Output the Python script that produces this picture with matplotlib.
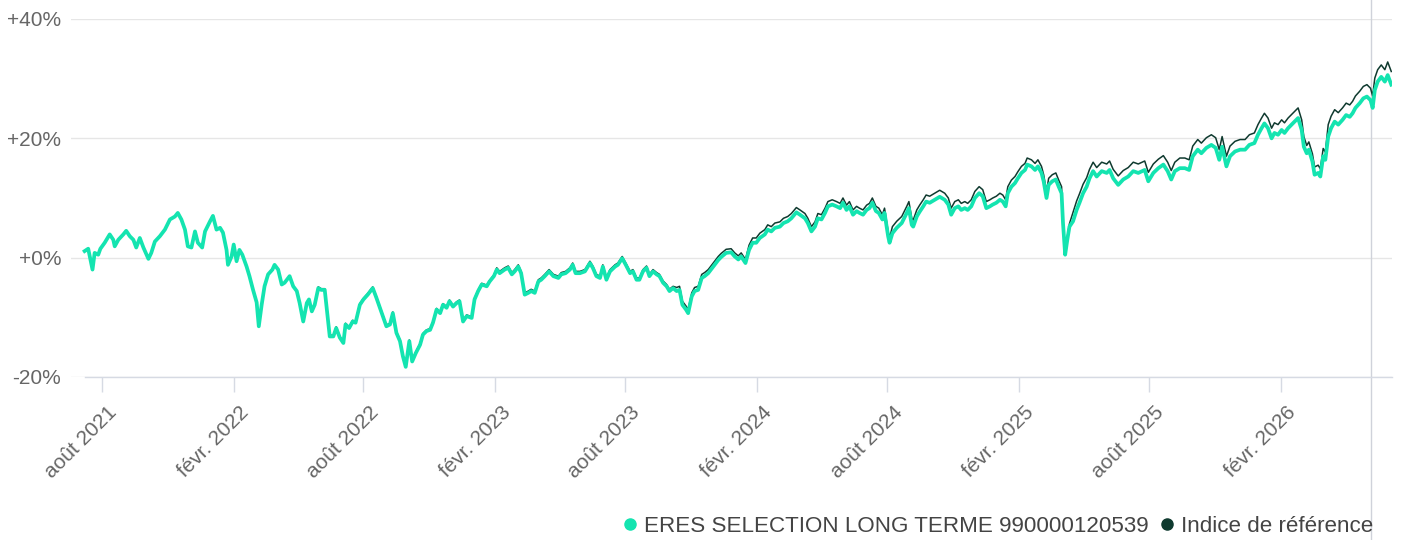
import numpy as np
import pandas as pd
import matplotlib
matplotlib.use("Agg")
import matplotlib.pyplot as plt
import matplotlib.dates as mdates
import matplotlib.transforms as mtransforms
from matplotlib.lines import Line2D

# ---------------- data ----------------
base_date = "2021-08-01"
day_offsets = [
    -24, -19, -13, -10, -5, -2, 4, 11, 16, 18, 23, 30, 34, 39, 44, 48, 53, 58, 65, 69,
    74, 81, 88, 95, 102, 106, 111, 116, 120, 125, 130, 134, 140, 144, 151, 155, 160, 165, 169, 174,
    176, 181, 184, 188, 192, 196, 202, 206, 211, 216, 219, 223, 227, 232, 238, 241, 246, 251, 255, 262,
    267, 272, 276, 281, 286, 289, 293, 297, 302, 306, 311, 314, 318, 323, 327, 332, 337, 340, 345, 350,
    354, 360, 365, 371, 378, 383, 388, 392, 397, 402, 406, 411, 416, 420, 424, 429, 433, 438, 444, 448,
    453, 458, 462, 467, 472, 476, 481, 485, 490, 495, 499, 504, 509, 516, 520, 525, 530, 537, 541, 547,
    551, 555, 562, 567, 572, 576, 581, 585, 590, 595, 599, 604, 609, 613, 618, 624, 630, 637, 641, 647,
    653, 657, 661, 667, 674, 681, 685, 690, 695, 699, 704, 709, 716, 720, 726, 731, 737, 741, 746, 750,
    755, 760, 764, 769, 774, 778, 783, 788, 792, 797, 802, 806, 810, 815, 818, 823, 827, 832, 837, 841,
    846, 853, 860, 864, 871, 878, 883, 888, 892, 898, 903, 908, 913, 918, 925, 929, 934, 939, 946, 951,
    957, 962, 969, 974, 981, 985, 990, 995, 999, 1004, 1009, 1013, 1019, 1025, 1030, 1034, 1039, 1043, 1048, 1053,
    1057, 1062, 1067, 1071, 1075, 1080, 1084, 1089, 1092, 1097, 1099, 1103, 1109, 1116, 1123, 1126, 1130, 1132, 1137, 1141,
    1146, 1150, 1155, 1162, 1169, 1176, 1181, 1185, 1190, 1195, 1199, 1204, 1208, 1213, 1218, 1224, 1229, 1234, 1239, 1243,
    1248, 1253, 1257, 1261, 1264, 1269, 1274, 1278, 1283, 1288, 1291, 1297, 1302, 1306, 1311, 1314, 1318, 1321, 1326, 1331,
    1335, 1339, 1341, 1344, 1347, 1350, 1355, 1360, 1364, 1369, 1374, 1378, 1383, 1388, 1395, 1402, 1406, 1411, 1418, 1425,
    1432, 1439, 1446, 1455, 1460, 1467, 1474, 1481, 1487, 1492, 1497, 1504, 1511, 1517, 1522, 1529, 1534, 1541, 1548, 1554,
    1559, 1563, 1569, 1574, 1581, 1588, 1595, 1601, 1608, 1613, 1618, 1622, 1627, 1632, 1636, 1641, 1646, 1650, 1655, 1660,
    1664, 1669, 1674, 1677, 1681, 1684, 1689, 1692, 1697, 1700, 1704, 1707, 1711, 1715, 1720, 1725, 1731, 1736, 1741, 1745,
    1749, 1755, 1760, 1765, 1770, 1773, 1776, 1780, 1785, 1790, 1794, 1799,
]

fund_pct = [
    1.1, 1.5, -2.0, 0.8, 0.5, 1.5, 2.5, 3.9, 3.0, 1.9, 3.0, 3.9, 4.5, 3.6, 3.0, 1.7, 3.3, 1.7, -0.2, 0.8,
    2.7, 3.6, 4.7, 6.4, 6.9, 7.5, 6.4, 4.7, 1.9, 1.7, 4.4, 2.5, 1.7, 4.4, 6.1, 7.0, 4.7, 5.0, 4.2, 1.3,
    -1.2, 0.2, 2.2, -0.6, 1.3, 0.5, -1.5, -3.1, -5.4, -7.5, -11.5, -7.9, -4.8, -2.8, -2.0, -1.2, -2.0, -4.5, -4.2, -3.1,
    -4.8, -5.6, -7.6, -10.7, -7.6, -7.0, -9.0, -7.9, -5.1, -5.4, -5.4, -8.7, -13.2, -13.2, -11.8, -13.4, -14.3, -11.2, -11.8, -10.7,
    -10.9, -7.9, -7.0, -6.2, -5.1, -6.7, -8.4, -9.8, -11.5, -11.2, -9.3, -12.6, -14.0, -16.5, -18.3, -14.0, -17.4, -16.0, -14.6, -12.9,
    -12.3, -12.1, -10.9, -8.7, -9.3, -7.9, -8.4, -7.3, -8.2, -7.6, -7.3, -10.7, -9.8, -10.1, -7.0, -5.6, -4.5, -4.8, -4.0, -3.1,
    -2.0, -2.6, -2.0, -1.7, -2.8, -2.3, -1.5, -2.6, -6.2, -5.9, -5.6, -5.9, -4.0, -3.7, -3.1, -2.3, -3.1, -3.4, -2.8, -2.6,
    -2.0, -1.2, -2.6, -2.6, -2.3, -0.9, -1.7, -3.1, -3.4, -1.5, -3.7, -2.3, -1.5, -1.2, -0.1, -1.2, -2.6, -2.3, -3.7, -3.7,
    -2.3, -1.7, -3.1, -2.3, -2.8, -3.1, -4.2, -4.8, -5.6, -5.1, -5.6, -5.4, -7.9, -8.7, -9.3, -6.5, -5.6, -5.4, -3.4, -3.1,
    -2.6, -1.5, -0.4, 0.1, 0.8, 0.9, 0.2, -0.3, 0.2, -0.9, 1.3, 2.5, 2.5, 3.3, 3.9, 4.7, 4.4, 5.0, 5.2, 5.8,
    6.1, 6.6, 7.6, 7.2, 6.6, 5.8, 4.4, 5.2, 6.6, 6.4, 7.5, 8.6, 8.9, 8.6, 8.3, 9.2, 8.0, 8.6, 7.2, 7.8,
    7.5, 7.2, 8.0, 8.3, 9.2, 7.8, 7.5, 6.4, 7.5, 3.6, 2.5, 4.1, 5.0, 5.8, 7.5, 8.3, 5.5, 5.2, 6.9, 7.7,
    8.6, 9.4, 9.2, 9.7, 10.2, 9.7, 8.9, 7.2, 8.3, 8.6, 8.0, 8.3, 8.0, 8.6, 10.0, 10.8, 10.3, 8.3, 8.6, 8.9,
    9.2, 9.7, 9.4, 8.6, 10.8, 11.9, 12.5, 13.3, 14.2, 14.7, 15.6, 15.3, 14.7, 15.3, 14.2, 12.8, 10.0, 12.2, 12.8, 13.1,
    11.9, 10.8, 5.8, 0.5, 3.0, 5.2, 6.1, 8.0, 9.2, 10.8, 11.9, 13.3, 14.5, 13.6, 14.5, 14.2, 14.7, 13.3, 12.2, 13.1,
    13.6, 14.5, 14.2, 14.7, 12.8, 14.2, 15.0, 15.6, 14.5, 13.1, 14.5, 15.0, 15.0, 14.7, 17.0, 18.1, 17.5, 18.4, 18.9, 18.4,
    16.4, 18.6, 15.3, 17.0, 17.8, 18.1, 18.1, 18.9, 19.2, 20.6, 21.7, 22.5, 21.7, 20.0, 20.9, 20.6, 21.4, 20.9, 21.7, 22.3,
    22.8, 23.4, 21.4, 18.6, 17.5, 18.1, 16.1, 13.9, 14.2, 13.6, 17.0, 16.4, 20.3, 21.7, 22.8, 22.3, 23.1, 23.9, 23.6, 24.2,
    25.1, 25.9, 26.7, 27.0, 26.4, 25.1, 28.1, 29.5, 30.3, 29.5, 30.6, 29.0,
]

ref_pct = [
    1.1, 1.5, -2.0, 0.8, 0.5, 1.5, 2.5, 3.9, 3.0, 1.9, 3.0, 3.9, 4.5, 3.6, 3.0, 1.7, 3.3, 1.7, -0.2, 0.8,
    2.7, 3.6, 4.7, 6.4, 6.9, 7.5, 6.4, 4.7, 1.9, 1.7, 4.4, 2.5, 1.7, 4.4, 6.1, 7.0, 4.7, 5.0, 4.2, 1.3,
    -1.2, 0.2, 2.2, -0.6, 1.3, 0.5, -1.5, -3.1, -5.4, -7.5, -11.5, -7.9, -4.8, -2.8, -2.0, -1.2, -2.0, -4.5, -4.2, -3.1,
    -4.8, -5.6, -7.6, -10.7, -7.6, -7.0, -9.0, -7.9, -4.9, -5.2, -5.2, -8.5, -13.0, -13.0, -11.6, -13.2, -14.1, -11.0, -11.6, -10.5,
    -10.7, -7.7, -6.8, -6.0, -4.9, -6.5, -8.2, -9.6, -11.3, -11.0, -9.1, -12.4, -13.8, -16.3, -18.1, -13.8, -17.2, -15.8, -14.4, -12.7,
    -12.1, -11.9, -10.7, -8.5, -9.1, -7.7, -8.2, -7.1, -8.0, -7.4, -7.1, -10.5, -9.6, -9.9, -6.8, -5.4, -4.3, -4.6, -3.8, -2.9,
    -1.7, -2.3, -1.7, -1.4, -2.5, -2.0, -1.2, -2.3, -5.9, -5.6, -5.3, -5.6, -3.7, -3.4, -2.8, -2.0, -2.8, -3.1, -2.5, -2.3,
    -1.7, -0.9, -2.3, -2.3, -2.0, -0.6, -1.4, -2.8, -3.1, -1.2, -3.4, -2.0, -1.2, -0.9, 0.2, -0.9, -2.3, -2.0, -3.4, -3.4,
    -2.0, -1.4, -2.8, -2.0, -2.5, -2.8, -3.9, -4.5, -5.3, -4.8, -5.0, -4.8, -7.3, -8.1, -8.7, -5.9, -5.0, -4.8, -2.8, -2.5,
    -2.0, -0.9, 0.2, 0.7, 1.4, 1.5, 0.8, 0.3, 0.8, -0.3, 2.1, 3.3, 3.3, 4.1, 4.7, 5.5, 5.2, 5.8, 6.0, 6.6,
    6.9, 7.4, 8.4, 8.0, 7.4, 6.6, 5.2, 6.0, 7.4, 7.2, 8.3, 9.4, 9.7, 9.4, 9.1, 10.0, 8.8, 9.4, 8.0, 8.6,
    8.3, 8.0, 8.8, 9.1, 10.0, 8.6, 8.3, 7.2, 8.3, 4.4, 3.3, 5.2, 6.1, 6.9, 8.6, 9.4, 6.6, 6.3, 8.0, 8.8,
    9.7, 10.5, 10.3, 10.8, 11.3, 10.8, 10.0, 8.3, 9.4, 9.7, 9.1, 9.4, 9.1, 9.7, 11.1, 11.9, 11.4, 9.4, 9.7, 10.0,
    10.3, 10.8, 10.5, 9.7, 11.9, 13.0, 13.6, 14.4, 15.3, 15.8, 16.7, 16.4, 15.8, 16.4, 15.3, 13.9, 11.1, 13.3, 13.9, 14.2,
    13.0, 11.9, 6.3, 1.0, 3.5, 5.7, 7.6, 9.5, 10.7, 12.3, 13.4, 14.8, 16.0, 15.1, 16.0, 15.7, 16.2, 14.8, 13.7, 14.6,
    15.1, 16.0, 15.7, 16.2, 14.3, 15.7, 16.5, 17.1, 16.0, 14.6, 16.0, 16.7, 16.7, 16.4, 18.7, 19.8, 19.2, 20.1, 20.6, 20.1,
    18.1, 20.3, 17.0, 18.7, 19.5, 19.8, 19.8, 20.6, 20.9, 22.3, 23.4, 24.2, 23.4, 21.7, 22.6, 22.3, 23.1, 22.6, 23.4, 24.0,
    24.5, 25.1, 23.1, 20.3, 18.8, 19.4, 17.4, 15.2, 15.5, 14.9, 18.3, 17.7, 22.3, 23.7, 24.8, 24.3, 25.1, 25.9, 25.6, 26.2,
    27.1, 27.9, 28.7, 29.0, 28.4, 27.1, 30.1, 31.5, 32.3, 31.5, 32.8, 31.2,
]

tick_dates = ["2021-08-01", "2022-02-01", "2022-08-01", "2023-02-01", "2023-08-01",
              "2024-02-01", "2024-08-01", "2025-02-01", "2025-08-01", "2026-02-01"]
tick_labels = ["août 2021", "févr. 2022", "août 2022", "févr. 2023", "août 2023",
               "févr. 2024", "août 2024", "févr. 2025", "août 2025", "févr. 2026"]
y_ticks = [-20, 0, 20, 40]
y_tick_labels = ["-20%", "+0%", "+20%", "+40%"]
series_names = ["ERES SELECTION LONG TERME 990000120539", "Indice de référence"]
cursor_date = "2026-06-07"

# ---------------- styling ----------------
FUND_COLOR = "#14e4b0"
REF_COLOR = "#0f3a2f"
GRID_COLOR = "#e6e6e6"
LABEL_COLOR = "#666666"
FONT = ["Liberation Sans", "DejaVu Sans"]
plt.rcParams["font.family"] = FONT

base = pd.Timestamp(base_date)
dates = base + pd.to_timedelta(day_offsets, unit="D")

W, H = 1404, 540
fig = plt.figure(figsize=(W / 100, H / 100), dpi=100)
ax_left, ax_right, ax_top, ax_bot = 71, 1392, 19, 377
ax = fig.add_axes([ax_left / W, 1 - ax_bot / H, (ax_right - ax_left) / W, (ax_bot - ax_top) / H])

ax.plot(dates, ref_pct, color=REF_COLOR, lw=1.1, zorder=3, solid_joinstyle="round")
ax.plot(dates, fund_pct, color=FUND_COLOR, lw=2.7, zorder=4, solid_joinstyle="round")

ax.set_ylim(-20, 40)
x0 = mdates.date2num(base - pd.Timedelta(days=43))
x1 = mdates.date2num(base + pd.Timedelta(days=1800))
ax.set_xlim(x0, x1)

ax.set_yticks(y_ticks)
ax.set_yticklabels(y_tick_labels)
ax.set_xticks(mdates.date2num(pd.to_datetime(tick_dates)))

ax.grid(axis="y", color=GRID_COLOR, lw=1.0)
ax.set_axisbelow(True)
for s in ["top", "right", "left"]:
    ax.spines[s].set_visible(False)
ax.spines["bottom"].set_color("#d6dae3")
ax.spines["bottom"].set_linewidth(1.0)
ax.spines["bottom"].set_bounds(mdates.date2num(dates[0]), x1)

ax.tick_params(axis="y", length=0, pad=7, labelsize=15, labelcolor=LABEL_COLOR)
ax.tick_params(axis="x", length=11, width=1.0, color="#d6dae3", pad=6,
               labelsize=15, labelcolor=LABEL_COLOR)

ax.set_xticklabels(tick_labels, rotation=45, ha="right", va="center", rotation_mode="anchor")
shift = mtransforms.ScaledTranslation(12 / 100, -9 / 100, fig.dpi_scale_trans)
for lbl in ax.get_xticklabels():
    lbl.set_transform(lbl.get_transform() + shift)

# hover crosshair
ax.axvline(mdates.date2num(pd.Timestamp(cursor_date)), ymin=-0.46, ymax=1.06, color="#cfd2da",
           lw=1.0, clip_on=False, zorder=1)

handles = [Line2D([], [], marker="o", ls="", color=FUND_COLOR, markersize=8),
           Line2D([], [], marker="o", ls="", color=REF_COLOR, markersize=8)]
fig.legend(handles, series_names, ncol=2, loc="center right",
           bbox_to_anchor=(1373 / W, 1 - 526 / H), frameon=False,
           fontsize=16.1, labelcolor="#444444", handlelength=0.5, handletextpad=0.35,
           columnspacing=0.6, borderpad=0, borderaxespad=0)

fig.savefig("out.png", dpi=100, facecolor="white")
